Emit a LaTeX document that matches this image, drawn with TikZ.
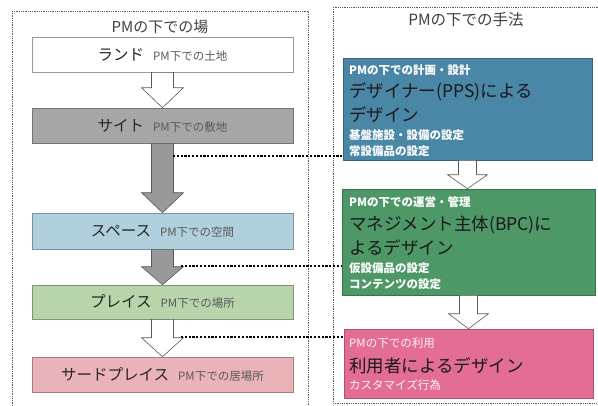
\documentclass[tikz,border=0pt]{standalone}
\usepackage{fontspec}
\setmainfont{Noto Sans CJK JP}
\usetikzlibrary{positioning, calc}
\definecolor{sitegray}{HTML}{A6A6A6}
\definecolor{spaceblue}{HTML}{AFD0DC}
\definecolor{placegreen}{HTML}{B8D4AA}
\definecolor{thirdpink}{HTML}{E9B3B7}
\definecolor{ppsblue}{HTML}{4A86A6}
\definecolor{bpcgreen}{HTML}{4E9868}
\definecolor{userpink}{HTML}{E46D96}
\tikzset{
	framebox/.style={densely dotted, line width=0.8pt, gray!70!black},
	placebox/.style={draw=#1!70!black, fill=#1, line width=0.6pt, minimum width=261pt, inner sep=0pt},
	methodbox/.style={draw=#1!75!black, fill=#1, line width=0.6pt, inner sep=0pt},
	headtext/.style={font=\fontsize{15}{16}\selectfont, text=black!75},
	whitetext/.style={font=\fontsize{11.5}{12}\selectfont\bfseries, text=white, anchor=west, inner sep=0pt},
	thinwhite/.style={font=\fontsize{11.5}{12}\selectfont, text=white!92!userpink, anchor=west, inner sep=0pt},
	designtext/.style={font=\fontsize{17.5}{18}\selectfont, text=black!90, anchor=west, inner sep=0pt},
	hollow/.style={draw=gray!70!black, fill=white, line width=0.6pt},
	solid/.style={draw=gray!70!black, fill=gray!80, line width=0.6pt},
	dotline/.style={dash pattern=on 2.2pt off 1.6pt, line width=2.2pt, black}
}
% big name and small gloss inside a place box
\newcommand{\placelabel}[2]{{\fontsize{15.5}{16}\selectfont\color{black!85}#1}\hspace{9pt}{\fontsize{11.5}{12}\selectfont\color{black!65}#2}}
% block arrow from the bottom of #2 to the top of #3
\newcommand{\blockarrow}[6]{
  \path (#2.south) coordinate (ba-a) (#3.north -| #2.south) coordinate (ba-b);
  \draw[#1] ($(ba-a)+(-#4,0)$) -- ($(ba-b)+(-#4,-#6)$) -- ($(ba-b)+(-#5,-#6)$)
    -- (ba-b) -- ($(ba-b)+(#5,-#6)$) -- ($(ba-b)+(#4,-#6)$) -- ($(ba-a)+(#4,0)$) -- cycle;
}

\begin{document}
\begin{tikzpicture}[x=1pt, y=-1pt]
  \useasboundingbox (0,0) rectangle (598,405);

  % the two dotted frames
  \draw[framebox] (12,11) rectangle (308,412);
  \draw[framebox] (333,7) rectangle (606,403);
  \node[headtext] (placehead) at (160,27) {PMの下での場};
  \node[headtext, font=\fontsize{15.5}{16}\selectfont] (methodhead) at (466,20) {PMの下での手法};

  % left column: places
  \node[placebox=white, draw=gray!80, minimum height=35pt] (land) at (162.5,54.5) {\placelabel{ランド}{PM下での土地}};
  \node[placebox=sitegray, minimum height=35pt] (site) at (162.5,125.5) {\placelabel{サイト}{PM下での敷地}};
  \node[placebox=spaceblue, minimum height=36pt] (space) at (162.5,231) {\placelabel{スペース}{PM下での空間}};
  \node[placebox=placegreen, minimum height=34pt] (place) at (162.5,302) {\placelabel{プレイス}{PM下での場所}};
  \node[placebox=thirdpink, minimum height=35pt] (third) at (162.5,374.5) {\placelabel{サードプレイス}{PM下での居場所}};

  \blockarrow{hollow}{land}{site}{11}{21}{20}
  \blockarrow{solid}{site}{space}{11}{21}{20}
  \blockarrow{solid}{space}{place}{11}{21}{18}
  \blockarrow{hollow}{place}{third}{11}{21}{19}

  % right column: methods
  \node[methodbox=ppsblue, minimum width=249pt, minimum height=102pt] (pps) at (467.5,109) {};
  \node[methodbox=bpcgreen, minimum width=253pt, minimum height=106pt] (bpc) at (468.5,242) {};
  \node[methodbox=userpink, minimum width=249pt, minimum height=69pt] (user) at (468.5,363.5) {};

  \blockarrow{hollow}{pps}{bpc}{9}{20}{14}
  \blockarrow{hollow}{bpc}{user}{9}{20}{15}

  \node[whitetext] (pps1) at (349,70) {PMの下での計画・設計};
  \node[designtext] (pps2) at (349,92) {デザイナー(PPS)による};
  \node[designtext] (pps3) at (349,115) {デザイン};
  \node[whitetext] (pps4) at (349,135) {基盤施設・設備の設定};
  \node[whitetext] (pps5) at (349,151) {常設備品の設定};

  \node[whitetext] (bpc1) at (349,202) {PMの下での運営・管理};
  \node[designtext] (bpc2) at (349,225) {マネジメント主体(BPC)に};
  \node[designtext] (bpc3) at (349,248) {よるデザイン};
  \node[whitetext] (bpc4) at (349,268) {仮設備品の設定};
  \node[whitetext] (bpc5) at (349,284) {コンテンツの設定};

  \node[thinwhite] (user1) at (349,343) {PMの下での利用};
  \node[designtext] (user2) at (349,366) {利用者によるデザイン};
  \node[thinwhite] (user3) at (349,385) {カスタマイズ行為};

  % dotted links from the place arrows to the methods
  \coordinate (link1) at (173,156);
  \coordinate (link2) at (181,266);
  \coordinate (link3) at (181,337);
  \draw[dotline] (link1) -- (link1 -| pps.west);
  \draw[dotline] (link2) -- (link2 -| bpc.west);
  \draw[dotline] (link3) -- (link3 -| user.west);
\end{tikzpicture}
\end{document}
